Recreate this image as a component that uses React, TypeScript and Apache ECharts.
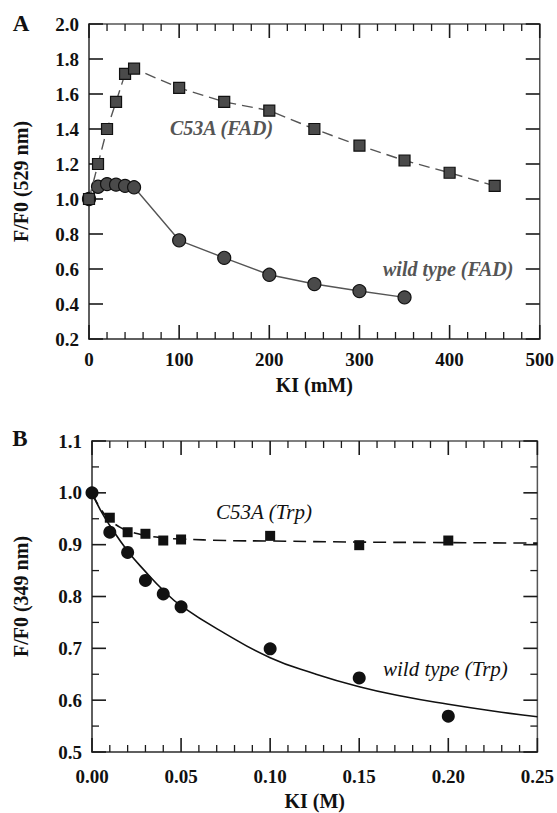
import React, { useEffect, useRef } from "react";
import * as echarts from "echarts";

// Panel A: KI (mM) vs F/F0 (529 nm)
const aC53AX = [0, 10, 20, 30, 40, 50, 100, 150, 200, 250, 300, 350, 400, 450];
const aC53AY = [1.0, 1.2, 1.4, 1.555, 1.715, 1.745, 1.635, 1.555, 1.505, 1.4, 1.305, 1.22, 1.15, 1.075];
const aWildX = [0, 10, 20, 30, 40, 50, 100, 150, 200, 250, 300, 350];
const aWildY = [1.0, 1.07, 1.085, 1.082, 1.075, 1.067, 0.764, 0.664, 0.567, 0.514, 0.474, 0.438];

// Panel B: KI (M) vs F/F0 (349 nm)
const bC53AX = [0.01, 0.02, 0.03, 0.04, 0.05, 0.1, 0.15, 0.2];
const bC53AY = [0.952, 0.924, 0.921, 0.908, 0.91, 0.917, 0.899, 0.908];
const bWildX = [0, 0.01, 0.02, 0.03, 0.04, 0.05, 0.1, 0.15, 0.2];
const bWildY = [1.0, 0.924, 0.885, 0.831, 0.805, 0.78, 0.699, 0.643, 0.569];

// fitted curves
const bC53AFitX = [0, 0.005, 0.01, 0.015, 0.02, 0.03, 0.04, 0.05, 0.075, 0.1, 0.15, 0.2, 0.25];
const bC53AFitY = [1.0, 0.968, 0.948, 0.935, 0.927, 0.918, 0.913, 0.911, 0.908, 0.907, 0.905, 0.904, 0.903];
const bWildFitX = [0, 0.005, 0.01, 0.02, 0.03, 0.04, 0.05, 0.075, 0.1, 0.125, 0.15, 0.175, 0.2, 0.225, 0.25];
const bWildFitY = [1.0, 0.965, 0.937, 0.888, 0.848, 0.812, 0.782, 0.728, 0.682, 0.651, 0.626, 0.607, 0.592, 0.579, 0.568];

const aXTicks = { min: 0, max: 500, interval: 100 };
const aYTicks = { min: 0.2, max: 2.0, interval: 0.2 };
const bXTicks = { min: 0, max: 0.25, interval: 0.05 };
const bYTicks = { min: 0.5, max: 1.1, interval: 0.1 };

type Ticks = { min: number; max: number; interval: number };

const zip = (xs: number[], ys: number[]) => xs.map((x, i) => [x, ys[i]]);

const FONT = "Liberation Serif";
const TICK = "#1a1a1a";

// tick values along an axis: [value, isMajor]
function tickList(t: Ticks, minorCount: number): number[][] {
  const step = t.interval / minorCount;
  const n = Math.round((t.max - t.min) / step);
  const out: number[][] = [];
  for (let i = 0; i <= n; i++) {
    out.push([t.min + i * step, i % minorCount === 0 ? 1 : 0]);
  }
  return out;
}

function valueAxis(gridIndex: number, t: Ticks, pos: string, fmt: (v: number) => string, margin: number, name: string, nameGap: number) {
  return {
    type: "value",
    gridIndex,
    position: pos,
    min: t.min,
    max: t.max,
    interval: t.interval,
    name,
    nameLocation: "middle",
    nameGap,
    nameTextStyle: { fontFamily: FONT, fontWeight: "bold", fontSize: 20, color: "#111111" },
    axisLine: { show: true, onZero: false, lineStyle: { color: "#555555", width: 1.5 } },
    axisTick: { show: false },
    minorTick: { show: false },
    axisLabel: { show: true, margin, formatter: fmt, fontFamily: FONT, fontWeight: "bold", fontSize: 19, color: "#111111" },
    splitLine: { show: false },
  };
}

// inward tick marks on both opposite edges, placed through the axis scales
function xTickSeries(axisIndex: number, xt: Ticks, yt: Ticks, minorCount: number) {
  return {
    type: "custom",
    xAxisIndex: axisIndex,
    yAxisIndex: axisIndex,
    silent: true,
    clip: false,
    z: 1,
    data: tickList(xt, minorCount).map((d) => [d[0], yt.min, d[1]]),
    renderItem: (_params: any, api: any) => {
      const v = api.value(0);
      const major = api.value(2) === 1;
      const len = major ? 14 : 7;
      const w = major ? 1.6 : 1.3;
      const b = api.coord([v, yt.min]);
      const t = api.coord([v, yt.max]);
      return {
        type: "group",
        children: [
          { type: "line", shape: { x1: b[0], y1: b[1], x2: b[0], y2: b[1] - len }, style: { stroke: TICK, lineWidth: w } },
          { type: "line", shape: { x1: t[0], y1: t[1], x2: t[0], y2: t[1] + len }, style: { stroke: TICK, lineWidth: w } },
        ],
      };
    },
  };
}

function yTickSeries(axisIndex: number, xt: Ticks, yt: Ticks, minorCount: number) {
  return {
    type: "custom",
    xAxisIndex: axisIndex,
    yAxisIndex: axisIndex,
    silent: true,
    clip: false,
    z: 1,
    data: tickList(yt, minorCount).map((d) => [xt.min, d[0], d[1]]),
    renderItem: (_params: any, api: any) => {
      const v = api.value(1);
      const major = api.value(2) === 1;
      const len = major ? 14 : 7;
      const w = major ? 1.6 : 1.3;
      const l = api.coord([xt.min, v]);
      const r = api.coord([xt.max, v]);
      return {
        type: "group",
        children: [
          { type: "line", shape: { x1: l[0], y1: l[1], x2: l[0] + len, y2: l[1] }, style: { stroke: TICK, lineWidth: w } },
          { type: "line", shape: { x1: r[0], y1: r[1], x2: r[0] - len, y2: r[1] }, style: { stroke: TICK, lineWidth: w } },
        ],
      };
    },
  };
}

export default function App() {
  const ref = useRef<HTMLDivElement>(null);

  useEffect(() => {
    if (!ref.current) return;
    const chart = echarts.init(ref.current, null, { renderer: "svg" });
    const f1 = (v: number) => v.toFixed(1);
    const f2 = (v: number) => v.toFixed(2);
    const f0 = (v: number) => String(Math.round(v));
    const grayFill = "#4a4a4a";
    const gridBox = { show: true, borderColor: "#555555", borderWidth: 1.5, backgroundColor: "transparent" };

    chart.setOption({
      animation: false,
      backgroundColor: "#ffffff",
      grid: [
        { left: 89, top: 24, width: 452, height: 315, ...gridBox },
        { left: 92, top: 441, width: 447, height: 311, ...gridBox },
      ],
      xAxis: [
        valueAxis(0, aXTicks, "bottom", f0, 11, "KI (mM)", 36),
        valueAxis(1, bXTicks, "bottom", f2, 15, "KI (M)", 39),
      ],
      yAxis: [
        valueAxis(0, aYTicks, "left", f1, 10, "F/F0 (529 nm)", 58),
        valueAxis(1, bYTicks, "left", f1, 10, "F/F0 (349 nm)", 61),
      ],
      series: [
        xTickSeries(0, aXTicks, aYTicks, 5),
        yTickSeries(0, aXTicks, aYTicks, 1),
        xTickSeries(1, bXTicks, bYTicks, 5),
        yTickSeries(1, bXTicks, bYTicks, 2),
        {
          name: "wild type (FAD)",
          type: "line",
          xAxisIndex: 0,
          yAxisIndex: 0,
          data: zip(aWildX, aWildY),
          symbol: "circle",
          symbolSize: 13,
          lineStyle: { color: "#555555", width: 1.4 },
          itemStyle: { color: grayFill, borderColor: "#111111", borderWidth: 1.2 },
          z: 2,
        },
        {
          name: "C53A (FAD)",
          type: "line",
          xAxisIndex: 0,
          yAxisIndex: 0,
          data: zip(aC53AX, aC53AY),
          symbol: "rect",
          symbolSize: 11,
          lineStyle: { color: "#555555", width: 1.4, type: [11, 6] },
          itemStyle: { color: grayFill, borderColor: "#111111", borderWidth: 1.2 },
          z: 3,
        },
        {
          name: "C53A (Trp) fit",
          type: "line",
          xAxisIndex: 1,
          yAxisIndex: 1,
          data: zip(bC53AFitX, bC53AFitY),
          smooth: true,
          showSymbol: false,
          lineStyle: { color: "#111111", width: 1.6, type: [13, 7] },
          z: 2,
        },
        {
          name: "wild type (Trp) fit",
          type: "line",
          xAxisIndex: 1,
          yAxisIndex: 1,
          data: zip(bWildFitX, bWildFitY),
          smooth: true,
          showSymbol: false,
          lineStyle: { color: "#111111", width: 1.6 },
          z: 2,
        },
        {
          name: "C53A (Trp)",
          type: "scatter",
          xAxisIndex: 1,
          yAxisIndex: 1,
          data: zip(bC53AX, bC53AY),
          symbol: "rect",
          symbolSize: 10,
          itemStyle: { color: "#111111", opacity: 1 },
          z: 3,
        },
        {
          name: "wild type (Trp)",
          type: "scatter",
          xAxisIndex: 1,
          yAxisIndex: 1,
          data: zip(bWildX, bWildY),
          symbol: "circle",
          symbolSize: 13,
          itemStyle: { color: "#111111", opacity: 1 },
          z: 4,
        },
      ],
      graphic: [
        { type: "text", x: 21, y: 23, style: { text: "A", fontFamily: FONT, fontWeight: "bold", fontSize: 23, fill: "#111111", align: "center", verticalAlign: "middle" } },
        { type: "text", x: 20, y: 438, style: { text: "B", fontFamily: FONT, fontWeight: "bold", fontSize: 23, fill: "#111111", align: "center", verticalAlign: "middle" } },
        { type: "text", x: 170, y: 128, style: { text: "C53A (FAD)", fontFamily: FONT, fontWeight: "bold", fontStyle: "italic", fontSize: 20, fill: "#555555", align: "left", verticalAlign: "middle" } },
        { type: "text", x: 383, y: 269, style: { text: "wild type (FAD)", fontFamily: FONT, fontWeight: "bold", fontStyle: "italic", fontSize: 20, fill: "#555555", align: "left", verticalAlign: "middle" } },
        { type: "text", x: 216, y: 512, style: { text: "C53A (Trp)", fontFamily: FONT, fontStyle: "italic", fontSize: 21, fill: "#111111", align: "left", verticalAlign: "middle" } },
        { type: "text", x: 383, y: 669, style: { text: "wild type (Trp)", fontFamily: FONT, fontStyle: "italic", fontSize: 21, fill: "#111111", align: "left", verticalAlign: "middle" } },
      ],
    });

    return () => chart.dispose();
  }, []);

  return (
    <div
      ref={ref}
      style={{ position: "absolute", left: 0, top: 0, width: 557, height: 813, background: "#fff" }}
    />
  );
}
